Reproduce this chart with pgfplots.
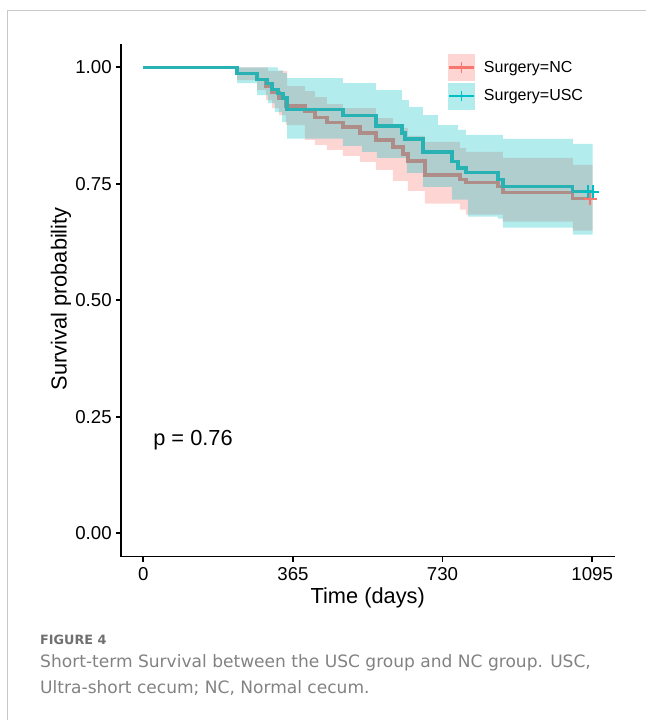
\documentclass[border=0pt]{standalone}
\usepackage{pgfplots}
\pgfplotsset{compat=1.18}
\usepgfplotslibrary{fillbetween}
\usepackage{fontspec}
\setmainfont{Liberation Sans}
\newfontfamily\capfont{DejaVu Sans}

\definecolor{ncred}{HTML}{F8766D}
\definecolor{uscteal}{HTML}{00BFC4}
\definecolor{ncline}{RGB}{174,140,135}
\definecolor{uscline}{RGB}{40,178,180}
\definecolor{nckeyfill}{RGB}{253,214,211}
\definecolor{usckeyfill}{RGB}{179,236,237}
\definecolor{capgray}{RGB}{130,130,130}
\definecolor{headgray}{RGB}{112,112,112}
\definecolor{framegray}{RGB}{200,200,200}

\pgfplotsset{
  nckey/.style={legend image code/.code={
      \fill[nckeyfill] (0pt,-9.75pt) rectangle (19.5pt,9.75pt);
      \draw[ncred, line width=2pt] (0.5pt,0pt) -- (19pt,0pt);
      \draw[ncred, line width=1pt] (9.75pt,-4pt) -- (9.75pt,4pt);
  }},
  usckey/.style={legend image code/.code={
      \fill[usckeyfill] (0pt,-9.75pt) rectangle (19.5pt,9.75pt);
      \draw[uscteal, line width=2pt] (0.5pt,0pt) -- (19pt,0pt);
      \draw[uscteal, line width=1pt] (9.75pt,-4pt) -- (9.75pt,4pt);
  }},
}

\begin{document}
\begin{tikzpicture}
% figure frame
\draw[framegray, line width=0.75pt] (-84.75pt,-122.25pt) -- (-84.75pt,409.5pt) -- (393.75pt,409.5pt);

\begin{axis}[
  at={(0,0)}, anchor=south west,
  scale only axis, width=370.5pt, height=384.75pt,
  xmin=-54.75, xmax=1149.75, ymin=-0.05, ymax=1.05,
  axis x line*=bottom, axis y line*=left,
  axis line style={-, line width=1.3pt, black},
  xtick={0,365,730,1095}, xticklabels={0,365,730,1095},
  ytick={0,0.25,0.5,0.75,1}, yticklabels={0.00,0.25,0.50,0.75,1.00},
  tick align=outside, major tick length=3.75pt,
  tick style={line width=1.3pt, black},
  ticklabel style={font=\fontsize{14}{16}\selectfont},
  xticklabel style={anchor=north, inner sep=0pt, yshift=-4.5pt},
  yticklabel style={anchor=east, inner sep=0pt, xshift=-3pt},
  xlabel={Time (days)}, ylabel={Survival probability},
  label style={font=\fontsize{16.35}{19}\selectfont},
  xlabel style={at={(axis description cs:0.5,-0.0916)}, anchor=base},
  ylabel style={at={(axis description cs:-0.110,0.503)}, anchor=base, rotate=0},
  legend style={at={(axis description cs:0.662,0.9805)}, anchor=north west,
    draw=none, fill=none, inner sep=0pt, row sep=1.5pt,
    font=\fontsize{12}{14}\selectfont, cells={anchor=west},
    /tikz/every odd column/.append style={column sep=4.5pt}},
  legend cell align=left,
]

% confidence bands
\addplot[name path=ncU, draw=none, const plot mark left, forget plot] coordinates {
  (0,1) (304.1,0.9915) (350.5,0.9594) (394.4,0.9487) (418.8,0.9359) (448.0,0.9209)
  (487.1,0.9124) (567.6,0.8910) (609.0,0.8697) (645.6,0.8526) (687.1,0.8397)
  (772.4,0.8269) (787.1,0.8184) (877.3,0.8056) (1048.0,0.7906) (1096,0.7906)
};
\addplot[name path=ncL, draw=none, const plot mark left, forget plot] coordinates {
  (0,1) (228.5,0.9722) (277.3,0.9509) (299.3,0.9295) (313.9,0.9124) (331.0,0.8974)
  (348.0,0.8761) (394.4,0.8440) (418.8,0.8333) (448.0,0.8226) (487.1,0.8098)
  (528.5,0.7970) (567.6,0.7799) (609.0,0.7564) (645.6,0.7350) (687.1,0.7073)
  (772.4,0.6944) (787.1,0.6838) (877.3,0.6688) (1048.0,0.6496) (1096,0.6496)
};
\addplot[name path=uscU, draw=none, const plot mark left, forget plot] coordinates {
  (0,1) (328.5,0.9936) (340.7,0.9872) (350.5,0.9765) (487.1,0.9658) (567.6,0.9509)
  (631.0,0.9295) (648.0,0.9145) (682.2,0.8974) (718.8,0.8761) (767.6,0.8654)
  (787.1,0.8547) (877.3,0.8462) (1048.0,0.8355) (1096,0.8355)
};
\addplot[name path=uscL, draw=none, const plot mark left, forget plot] coordinates {
  (0,1) (228.5,0.9658) (277.3,0.9402) (304.1,0.9231) (321.2,0.9038) (338.3,0.8825)
  (350.5,0.8470) (487.1,0.8312) (533.4,0.8184) (570.0,0.8056) (643.2,0.7735)
  (682.2,0.7436) (752.9,0.7158) (792.0,0.6795) (865.1,0.6752) (877.3,0.6560)
  (1048.0,0.6410) (1096,0.6410)
};
\addplot[fill=ncred, fill opacity=0.3, draw=none, forget plot] fill between[of=ncU and ncL];
\addplot[fill=uscteal, fill opacity=0.3, draw=none, forget plot] fill between[of=uscU and uscL];

% survival curves
\addplot[ncline, line width=2.4pt, const plot mark left, forget plot] coordinates {
  (0,1) (228.5,0.987) (277.3,0.974) (299.3,0.959) (313.9,0.946) (331.0,0.934)
  (348.0,0.917) (394.4,0.906) (418.8,0.893) (448.0,0.882) (487.1,0.872)
  (528.5,0.859) (567.6,0.844) (609.0,0.829) (633.4,0.814) (645.6,0.799)
  (687.1,0.769) (772.4,0.759) (787.1,0.752) (865.1,0.744) (877.3,0.731)
  (1048.0,0.718) (1090,0.718)
};
\addplot[uscline, line width=2.4pt, const plot mark left, forget plot] coordinates {
  (0,1) (228.5,0.987) (277.3,0.974) (301.7,0.966) (313.9,0.953) (328.5,0.944)
  (340.7,0.934) (350.5,0.910) (487.1,0.897) (567.6,0.874) (631.0,0.859)
  (638.3,0.846) (682.2,0.818) (752.9,0.797) (767.6,0.784) (787.1,0.774)
  (865.1,0.759) (877.3,0.744) (1048.0,0.733) (1096,0.733)
};

% censor marks
\addplot[only marks, mark=+, mark size=4.9pt, ncred, line width=1.5pt, forget plot] coordinates {(1090,0.718)};
\addplot[only marks, mark=+, mark size=4.9pt, uscteal, line width=1.5pt, forget plot] coordinates {(1084,0.733) (1096,0.733)};

\addlegendimage{nckey}
\addlegendentry{Surgery=NC}
\addlegendimage{usckey}
\addlegendentry{Surgery=USC}

\node[anchor=base west, inner sep=0pt, font=\fontsize{16.35}{19}\selectfont] at (axis cs:23.7,0.188) {p = 0.76};
\end{axis}

% caption
\node[anchor=base west, inner sep=0pt, text=headgray, font=\capfont\bfseries\fontsize{9.6}{12}\selectfont] at (-60.75pt,-66pt) {FIGURE 4};
\node[anchor=base west, inner sep=0pt, text=capgray, font=\capfont\fontsize{12.8}{15}\selectfont] at (-60.75pt,-83.25pt) {Short-term Survival between the USC group and NC group. USC,};
\node[anchor=base west, inner sep=0pt, text=capgray, font=\capfont\fontsize{12.8}{15}\selectfont] at (-60.75pt,-102.75pt) {Ultra-short cecum; NC, Normal cecum.};
\path (-90.75pt,-122.25pt) rectangle (393.75pt,417.75pt);
\end{tikzpicture}
\end{document}
